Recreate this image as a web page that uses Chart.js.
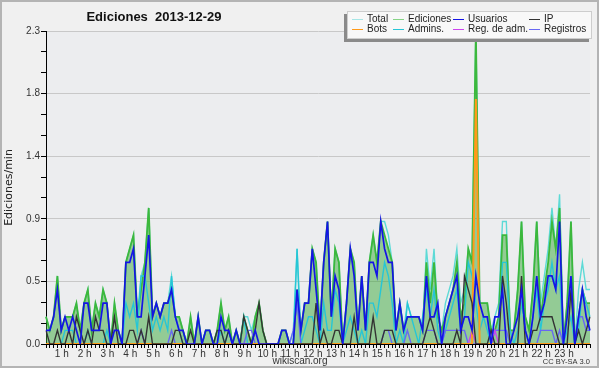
<!DOCTYPE html>
<html><head><meta charset="utf-8">
<script src="https://cdn.jsdelivr.net/npm/chart.js@4.4.1/dist/chart.umd.min.js"></script>
<style>html,body{margin:0;padding:0;background:#fff}canvas{display:block}</style>
</head><body>
<canvas id="c" width="600" height="370"></canvas>
<script>
// ---- data (10-minute slots, 2013-12-29) ----
const categories = [];
for (let h = 0; h < 24; h++) for (let m = 0; m < 6; m++) categories.push(h + ':' + m + '0');
const hourTicks = ['1 h','2 h','3 h','4 h','5 h','6 h','7 h','8 h','9 h','10 h','11 h','12 h','13 h','14 h','15 h','16 h','17 h','18 h','19 h','20 h','21 h','22 h','23 h'];
const yTickCount = 5; // major divisions
const yMax = 2.3;

const totalVals = [
0.2,0.1,0.2,0.5,0.1,0.2,0.2,0.2,0.3,0.1, 0.3,0.4,0.1,0.3,0.2,0.4,0.3,0.0,0.3,0.1,
0.0,0.6,0.7,0.8,0.2,0.5,0.6,1.0,0.2,0.3, 0.2,0.3,0.3,0.5,0.2,0.2,0.1,0.0,0.2,0.0,
0.2,0.0,0.1,0.1,0.0,0.1,0.3,0.1,0.2,0.0, 0.1,0.0,0.2,0.2,0.1,0.2,0.3,0.1,0.0,0.0,
0.0,0.0,0.1,0.1,0.0,0.1,0.7,0.1,0.3,0.3, 0.7,0.6,0.1,0.6,0.9,0.2,0.7,0.6,0.0,0.3,
0.7,0.6,0.1,0.5,0.1,0.6,0.8,0.6,0.9,0.9, 0.8,0.6,0.1,0.3,0.1,0.3,0.2,0.2,0.2,0.1,
0.7,0.4,0.7,0.2,0.1,0.3,0.4,0.5,0.7,0.3, 0.4,0.7,0.6,2.3,0.3,0.3,0.3,0.1,0.2,0.3,
0.9,0.9,0.1,0.1,0.4,0.9,0.2,0.1,0.4,0.9, 0.3,0.5,0.7,1.0,0.7,1.1,0.0,0.3,0.9,0.0,
0.4,0.6,0.4,0.4];
const edicionesVals = [
0.2,0.1,0.2,0.5,0.1,0.2,0.2,0.2,0.3,0.1, 0.3,0.4,0.1,0.3,0.2,0.4,0.3,0.0,0.3,0.1,
0.0,0.6,0.7,0.8,0.2,0.4,0.6,1.0,0.2,0.3, 0.2,0.3,0.3,0.4,0.2,0.2,0.1,0.0,0.2,0.0,
0.2,0.0,0.1,0.1,0.0,0.1,0.3,0.1,0.2,0.0, 0.1,0.0,0.2,0.1,0.0,0.2,0.3,0.1,0.0,0.0,
0.0,0.0,0.1,0.1,0.0,0.0,0.4,0.1,0.3,0.3, 0.7,0.6,0.1,0.6,0.9,0.2,0.7,0.6,0.0,0.3,
0.7,0.6,0.1,0.5,0.1,0.6,0.8,0.6,0.9,0.8, 0.7,0.6,0.1,0.3,0.1,0.2,0.2,0.2,0.2,0.1,
0.6,0.3,0.6,0.2,0.1,0.2,0.3,0.4,0.6,0.2, 0.3,0.7,0.6,2.3,0.3,0.3,0.3,0.1,0.1,0.2,
0.8,0.8,0.1,0.1,0.4,0.9,0.2,0.1,0.4,0.9, 0.2,0.4,0.6,0.9,0.7,1.0,0.0,0.3,0.9,0.0,
0.2,0.4,0.3,0.3];
const usuariosVals = [
0.1,0.1,0.2,0.4,0.1,0.2,0.1,0.2,0.1,0.0, 0.3,0.3,0.1,0.1,0.1,0.3,0.3,0.0,0.1,0.1,
0.0,0.6,0.6,0.7,0.2,0.2,0.5,0.8,0.2,0.3, 0.2,0.3,0.3,0.4,0.2,0.1,0.1,0.0,0.0,0.0,
0.2,0.0,0.1,0.1,0.0,0.0,0.2,0.1,0.1,0.0, 0.1,0.0,0.0,0.0,0.0,0.1,0.0,0.0,0.0,0.0,
0.0,0.0,0.1,0.1,0.0,0.0,0.4,0.1,0.3,0.3, 0.7,0.4,0.1,0.6,0.9,0.2,0.5,0.4,0.0,0.3,
0.7,0.5,0.1,0.5,0.1,0.6,0.6,0.5,0.9,0.7, 0.6,0.6,0.1,0.3,0.1,0.2,0.2,0.2,0.2,0.1,
0.5,0.2,0.2,0.3,0.0,0.2,0.3,0.4,0.5,0.1, 0.2,0.2,0.1,0.5,0.3,0.2,0.2,0.0,0.2,0.2,
0.4,0.0,0.0,0.1,0.2,0.4,0.1,0.0,0.2,0.5, 0.2,0.3,0.5,0.5,0.4,0.9,0.0,0.2,0.5,0.0,
0.2,0.4,0.2,0.1];
const ipVals = [
0.1,0.0,0.0,0.1,0.0,0.0,0.1,0.0,0.2,0.1, 0.0,0.1,0.0,0.2,0.1,0.1,0.0,0.0,0.2,0.0,
0.0,0.0,0.1,0.1,0.0,0.1,0.0,0.2,0.0,0.0, 0.0,0.0,0.0,0.0,0.1,0.1,0.0,0.0,0.1,0.0,
0.0,0.0,0.0,0.0,0.0,0.1,0.1,0.0,0.1,0.0, 0.0,0.0,0.2,0.1,0.0,0.1,0.3,0.1,0.0,0.0,
0.0,0.0,0.0,0.0,0.0,0.0,0.0,0.0,0.0,0.0, 0.0,0.3,0.0,0.1,0.0,0.0,0.1,0.1,0.0,0.0,
0.0,0.2,0.0,0.0,0.0,0.0,0.2,0.0,0.0,0.1, 0.1,0.1,0.0,0.0,0.0,0.0,0.0,0.0,0.0,0.0,
0.1,0.2,0.1,0.0,0.0,0.0,0.0,0.0,0.1,0.0, 0.5,0.4,0.3,0.0,0.0,0.0,0.0,0.1,0.0,0.0,
0.5,0.3,0.0,0.0,0.0,0.5,0.0,0.0,0.1,0.1, 0.2,0.2,0.2,0.2,0.1,0.0,0.0,0.0,0.4,0.0,
0.1,0.0,0.1,0.2];
const botsVals = [
0,0,0,0,0,0,0,0,0,0, 0,0,0,0,0,0,0,0,0,0, 0,0,0,0,0,0,0,0,0,0, 0,0,0,0,0,0,0,0,0,0,
0,0,0,0,0,0,0,0,0,0, 0,0,0,0,0,0,0,0,0,0, 0,0,0,0,0,0,0,0,0,0, 0,0,0,0,0,0,0,0,0,0,
0,0,0,0,0,0,0,0,0,0, 0,0,0,0,0,0,0,0,0,0, 0,0,0,0,0,0,0,0,0,0, 0,0,0,1.8,0,0,0,0,0,0,
0,0,0,0,0,0,0,0,0,0, 0,0,0,0,0,0,0,0,0,0, 0,0,0,0];
const adminsVals = [
0,0,0,0,0,0.1,0.1,0.1,0,0, 0,0.1,0,0,0,0,0.1,0,0,0,
0,0.3,0.2,0.3,0.1,0.5,0.5,0.3,0.1,0.2, 0.1,0.2,0.1,0.5,0.2,0.1,0,0,0,0,
0,0,0,0,0,0,0.1,0,0.1,0, 0,0,0.2,0,0,0,0,0,0,0,
0,0,0,0,0,0,0.7,0,0.1,0.2, 0.2,0.1,0,0.3,0.1,0.1,0.4,0.3,0,0.1,
0.2,0.1,0,0.1,0,0.3,0.3,0.2,0.4,0.6, 0.5,0.3,0,0.1,0,0.3,0.2,0.1,0,0.2,
0.4,0.2,0.4,0.1,0,0.1,0.2,0.3,0.4,0.1, 0.2,0.6,0.5,0.3,0.1,0.2,0.1,0,0.1,0.1,
0.6,0.6,0.1,0,0.1,0.3,0.1,0,0.2,0.4, 0.1,0.3,0.4,0.6,0.4,0.5,0,0.1,0.2,0,
0.1,0.4,0.3,0.2];
const regAdmVals = [
0,0,0,0,0,0,0,0,0,0, 0,0,0,0,0,0,0,0,0,0, 0,0,0,0,0,0,0,0,0,0, 0,0,0,0,0,0,0,0,0,0,
0,0,0,0,0,0,0,0,0,0, 0,0,0,0,0,0,0,0,0,0, 0,0,0,0,0,0,0,0,0,0, 0,0,0,0,0,0,0,0,0,0,
0,0,0,0,0,0,0,0,0,0, 0,0,0,0,0,0,0,0,0,0, 0,0,0,0,0,0,0,0,0,0, 0,0,0.1,0,0,0,0,0,0.1,0,
0,0,0,0,0,0,0,0,0,0, 0,0,0,0,0,0,0,0,0,0, 0,0,0,0];
const registrosVals = [
0,0,0,0,0,0,0,0,0,0, 0,0,0,0,0,0,0,0,0,0,
0,0,0,0,0,0.1,0,0,0,0, 0,0,0,0.1,0,0,0,0,0,0,
0,0,0,0,0,0,0,0,0,0, 0,0,0,0.1,0.1,0,0,0,0,0,
0,0,0,0,0,0.1,0.3,0,0,0, 0,0,0,0,0,0,0,0,0,0,
0,0,0,0,0,0,0,0,0,0.1, 0.1,0,0,0,0,0.1,0,0,0,0,
0.1,0.1,0.1,0,0,0.1,0.1,0.1,0.1,0.1, 0.1,0,0,0,0,0,0,0,0.1,0.1,
0.1,0.1,0,0,0,0,0,0,0,0, 0.1,0.1,0.1,0.1,0,0.1,0,0,0,0,
0.2,0.2,0.1,0.1];

const seriesNames = ['Total','Ediciones','Usuarios','IP','Bots','Admins.','Reg. de adm.','Registros'];

function ds(label, data, color, order, extra) {
  return Object.assign({label, data, borderColor: color, backgroundColor: color, borderWidth: 1.4,
    pointRadius: 0, tension: 0, fill: false, order}, extra || {});
}

const datasets = [
  ds(seriesNames[0], totalVals, '#5cdad6', 9, {legendColor: '#a6e6e6'}),
  ds(seriesNames[1], edicionesVals, '#3cb83c', 8, {fill: 'origin', backgroundColor: 'rgba(50,165,50,0.48)', borderWidth: 1.8, legendColor: '#86d486'}),
  ds(seriesNames[2], usuariosVals, '#1414e6', 1, {borderWidth: 1.7}),
  ds(seriesNames[3], ipVals, '#333333', 2),
  ds(seriesNames[4], botsVals, '#ff9a1a', 3, {borderWidth: 2}),
  ds(seriesNames[5], adminsVals, '#26c6d6', 6),
  ds(seriesNames[6], regAdmVals, '#cc44ee', 4),
  ds(seriesNames[7], registrosVals, '#6868f2', 5)
];

const decor = {
  id: 'decor',
  beforeDraw(chart) {
    const c = chart.ctx, a = chart.chartArea;
    c.save();
    c.fillStyle = '#ffffff'; c.fillRect(0, 0, 600, 370);
    c.fillStyle = '#F0F0F0'; c.fillRect(1, 1, 597, 366);
    c.strokeStyle = '#B4B4B4'; c.lineWidth = 2; c.strokeRect(1, 1, 597, 366);
    c.fillStyle = '#ECEDEF'; c.fillRect(a.left, a.top, a.right - a.left, a.bottom - a.top);
    c.restore();
  },
  afterDraw(chart) {
    const c = chart.ctx;
    c.save();
    // title
    c.fillStyle = '#111';
    c.font = 'bold 13px "Liberation Sans", Arial, sans-serif';
    c.textAlign = 'center'; c.textBaseline = 'alphabetic';
    c.fillText('Ediciones  2013-12-29', 154, 21);
    // legend box
    c.fillStyle = '#8a8a8a'; c.fillRect(344, 14, 245, 28);
    c.fillStyle = '#F8F8F8'; c.fillRect(347, 11, 245, 28);
    c.strokeStyle = '#CDCDCD'; c.lineWidth = 1; c.strokeRect(347.5, 11.5, 244, 27);
    const colX = [352, 393, 453, 529];
    const rowY = [19.5, 29.5];
    c.font = '10px "Liberation Sans", Arial, sans-serif';
    c.textAlign = 'left'; c.textBaseline = 'middle';
    chart.data.datasets.forEach((d, i) => {
      const x = colX[i % 4], y = rowY[Math.floor(i / 4)];
      c.strokeStyle = d.legendColor || d.borderColor; c.lineWidth = 1;
      c.beginPath(); c.moveTo(x, y); c.lineTo(x + 11, y); c.stroke();
      c.fillStyle = '#222'; c.fillText(d.label, x + 15, y);
    });
    // footer texts
    c.fillStyle = '#333';
    c.font = '10px "Liberation Sans", Arial, sans-serif';
    c.textAlign = 'center'; c.textBaseline = 'alphabetic';
    c.fillText('wikiscan.org', 300, 364);
    c.font = '7.5px "Liberation Sans", Arial, sans-serif';
    c.textAlign = 'right';
    c.fillText('CC BY-SA 3.0', 590, 364);
    c.restore();
  }
};

new Chart(document.getElementById('c'), {
  type: 'line',
  data: { labels: categories, datasets },
  plugins: [decor],
  options: {
    responsive: false, animation: false,
    layout: { padding: { top: 31, right: 10, left: 0, bottom: 0 } },
    plugins: { legend: { display: false }, tooltip: { enabled: false }, title: { display: false } },
    scales: {
      x: {
        type: 'category', offset: false,
        afterFit(s) { s.height = 26; },
        grid: { display: true, drawOnChartArea: false, drawTicks: true, tickLength: 4, tickColor: '#000', color: '#000' },
        border: { display: true, color: '#000', width: 1 },
        ticks: {
          autoSkip: false, maxRotation: 0, minRotation: 0, padding: 0, labelOffset: -7,
          color: '#333', font: { family: '"Liberation Sans", Arial, sans-serif', size: 10 },
          callback: (v, i) => (i > 0 && i % 6 === 0) ? hourTicks[i / 6 - 1] : ''
        }
      },
      y: {
        min: 0, max: yMax,
        afterFit(s) { s.width = 46; },
        afterBuildTicks(s) {
          const t = [];
          for (let k = 0; k <= yTickCount * 3; k++) t.push({ value: yMax * k / (yTickCount * 3) });
          s.ticks = t;
        },
        grid: {
          color: ctx => (ctx.index > 0 && ctx.index % 3 === 0) ? '#C8C8C8' : 'rgba(0,0,0,0)',
          tickColor: '#000', tickLength: 5, drawTicks: true
        },
        border: { display: true, color: '#000', width: 1 },
        ticks: {
          padding: 1, color: '#333', font: { family: '"Liberation Sans", Arial, sans-serif', size: 10 },
          callback: (v, i) => (i % 3 === 0) ? Number(v).toFixed(1) : ''
        },
        title: { display: true, text: 'Ediciones/min', color: '#222', padding: { top: 3, bottom: 0 },
          font: { family: '"DejaVu Sans", sans-serif', size: 11 } }
      }
    }
  }
});
</script>
</body></html>
